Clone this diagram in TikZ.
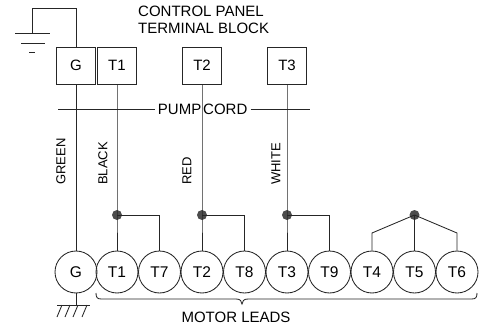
\documentclass[tikz,border=0pt]{standalone}
\usepackage{fontspec}
\setmainfont{Liberation Sans}
\begin{document}
\begin{tikzpicture}[x=1pt,y=-1pt,
  wire/.style={draw=black!85, line width=0.85pt},
  term/.style={draw=black!85, line width=0.85pt, minimum width=39pt, minimum height=37pt, inner sep=0pt, font=\fontsize{15}{15}\selectfont},
  lead/.style={circle, draw=black!85, line width=0.85pt, minimum size=42pt, inner sep=0pt, font=\fontsize{15.5}{15}\selectfont},
  lbl/.style={font=\fontsize{15}{17}\selectfont, inner sep=0pt},
  vlbl/.style={font=\fontsize{13}{13}\selectfont, inner sep=0pt, rotate=90, anchor=west},
  jdot/.style={circle, fill=black!70, minimum size=10pt, inner sep=0pt}]
\useasboundingbox (0,0) rectangle (487,326);

% terminal block
\node[term] (Gb)  at (76,65.5) {G};
\node[term] (T1b) at (117,65.5) {T1};
\node[term] (T2b) at (202,65.5) {T2};
\node[term] (T3b) at (287,65.5) {T3};

\node[lbl, align=left, anchor=north west] (cp) at (138,6) {CONTROL PANEL\\TERMINAL BLOCK};

% panel ground
\coordinate (g1) at (76,8);
\coordinate (g2) at (32,8);
\coordinate (g3) at (32,33);
\draw[wire] (Gb.north) -- (g1) -- (g2) -- (g3);
\draw[wire] (15,33) -- (50,33);
\draw[wire] (21,43) -- (45,43);
\draw[wire] (29,52) -- (35,52);

% motor leads
\node[lead] (G)  at (76,272) {G};
\node[lead] (T1) at (117,272) {T1};
\node[lead] (T7) at (159.5,272) {T7};
\node[lead] (T2) at (202,272) {T2};
\node[lead] (T8) at (244.5,272) {T8};
\node[lead] (T3) at (287,272) {T3};
\node[lead] (T9) at (329.5,272) {T9};
\node[lead] (T4) at (372,272) {T4};
\node[lead] (T5) at (414.5,272) {T5};
\node[lead] (T6) at (457,272) {T6};

% junctions
\node[jdot] (j1) at (117,215) {};
\node[jdot] (j2) at (202,215) {};
\node[jdot] (j3) at (287,215) {};
\node[jdot] (j4) at (414.5,215) {};

% wires
\draw[wire] (Gb.south) -- (G.north);
\draw[wire] (T1b.south) -- (j1.center) -- (T1.north);
\draw[wire] (T2b.south) -- (j2.center) -- (T2.north);
\draw[wire] (T3b.south) -- (j3.center) -- (T3.north);
\draw[wire] (j1.center) -| (T7.north);
\draw[wire] (j2.center) -| (T8.north);
\draw[wire] (j3.center) -| (T9.north);
\draw[wire] (j4.center) -- (T5.north);
\draw[wire] (j4.center) -- (372,233) -- (T4.north);
\draw[wire] (j4.center) -- (457,233) -- (T6.north);

% pump cord
\node[lbl, anchor=east] (pump) at (201.5,109) {PUMP};
\node[lbl, anchor=west] (cord) at (203,109) {CORD};
\draw[wire] (58,109) -- ([xshift=-3pt]pump.west |- 0,109);
\draw[wire] ([xshift=3pt]cord.east |- 0,109) -- (310,109);

% wire colour labels
\node[vlbl] (green) at (61,185) {GREEN};
\node[vlbl] (black) at (103,185) {BLACK};
\node[vlbl] (red)   at (187,185) {RED};
\node[vlbl] (white) at (276,185) {WHITE};

% motor ground
\coordinate (mg) at (76,305);
\draw[wire] (G.south) -- (mg);
\draw[wire] (57,305) -- (90,305);
\foreach \x in {62,70,78,87} \draw[wire] (\x,305) -- (\x-5,317);

% brace
\draw[wire] (96,293) .. controls (96,297) and (97,299) .. (101,299) -- (236,299)
  .. controls (240,299) and (242,301) .. (242,304)
  .. controls (242,301) and (244,299) .. (248,299) -- (472,299)
  .. controls (476,299) and (477,297) .. (477,293);
\node[lbl] (ml) at (236,317) {MOTOR LEADS};
\end{tikzpicture}
\end{document}
